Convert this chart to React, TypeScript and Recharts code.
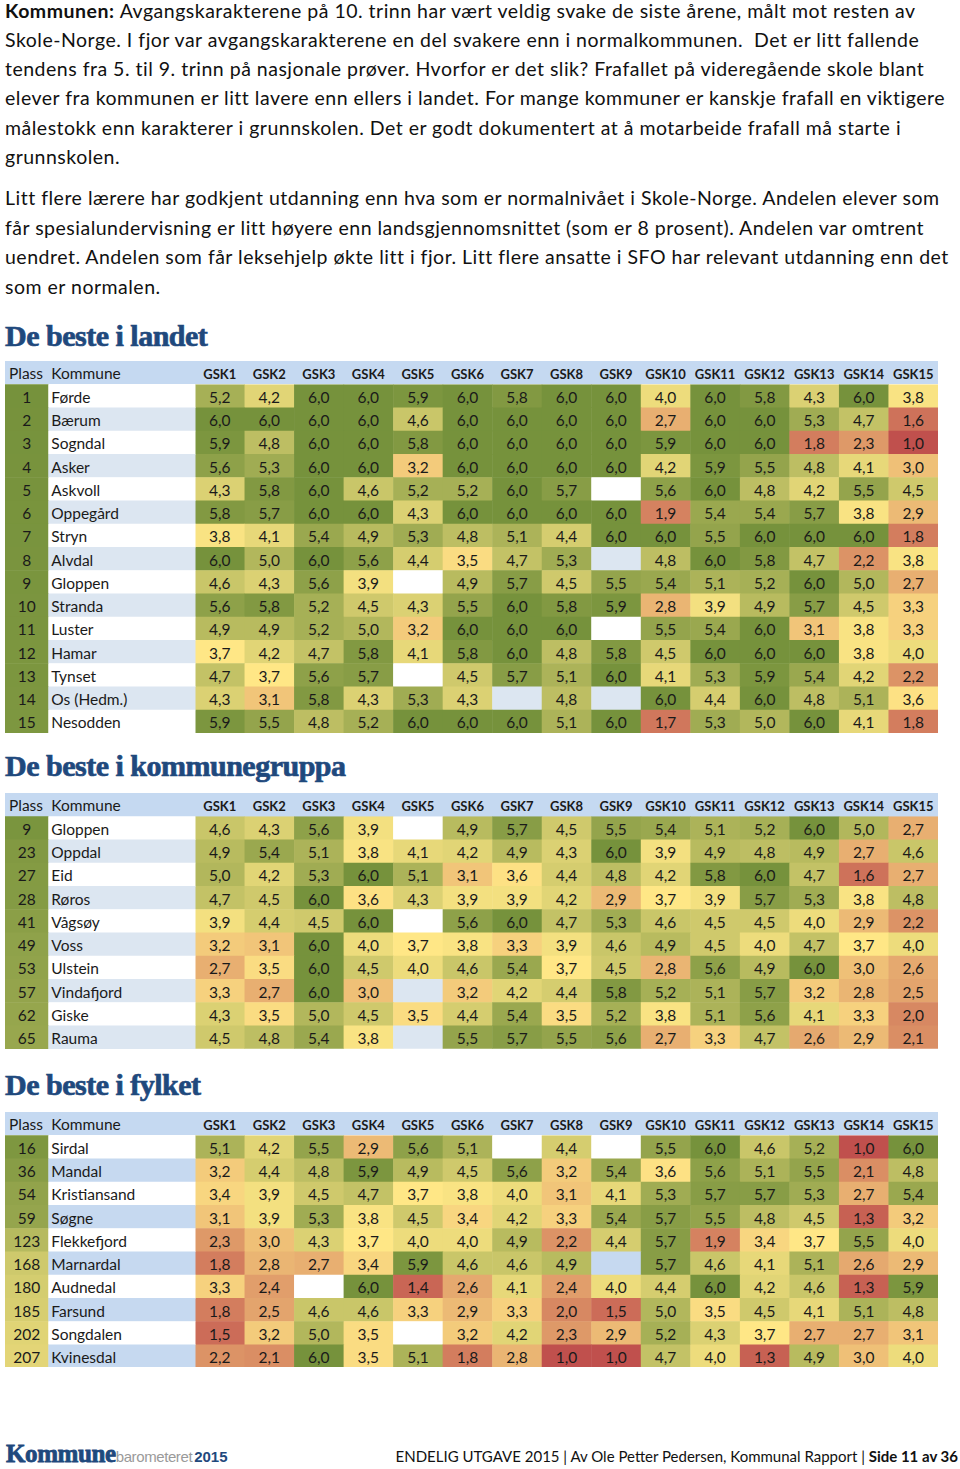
import React from "react"
import { Scatter, ScatterChart, XAxis, YAxis } from "recharts"

// column headings shared by all three tables
const GSK_COLS = [
  "GSK1", "GSK2", "GSK3", "GSK4", "GSK5", "GSK6", "GSK7", "GSK8",
  "GSK9", "GSK10", "GSK11", "GSK12", "GSK13", "GSK14", "GSK15",
]

// De beste i landet
const LANDET_PLASS = [1, 2, 3, 4, 5, 6, 7, 8, 9, 10, 11, 12, 13, 14, 15]
const LANDET_KOMMUNER = [
  "Førde", "Bærum", "Sogndal", "Asker", "Askvoll", "Oppegård", "Stryn", "Alvdal",
  "Gloppen", "Stranda", "Luster", "Hamar", "Tynset", "Os (Hedm.)", "Nesodden",
]
const LANDET_VERDIER: (number | null)[][] = [
  [5.2, 4.2, 6.0, 6.0, 5.9, 6.0, 5.8, 6.0, 6.0, 4.0, 6.0, 5.8, 4.3, 6.0, 3.8],
  [6.0, 6.0, 6.0, 6.0, 4.6, 6.0, 6.0, 6.0, 6.0, 2.7, 6.0, 6.0, 5.3, 4.7, 1.6],
  [5.9, 4.8, 6.0, 6.0, 5.8, 6.0, 6.0, 6.0, 6.0, 5.9, 6.0, 6.0, 1.8, 2.3, 1.0],
  [5.6, 5.3, 6.0, 6.0, 3.2, 6.0, 6.0, 6.0, 6.0, 4.2, 5.9, 5.5, 4.8, 4.1, 3.0],
  [4.3, 5.8, 6.0, 4.6, 5.2, 5.2, 6.0, 5.7, null, 5.6, 6.0, 4.8, 4.2, 5.5, 4.5],
  [5.8, 5.7, 6.0, 6.0, 4.3, 6.0, 6.0, 6.0, 6.0, 1.9, 5.4, 5.4, 5.7, 3.8, 2.9],
  [3.8, 4.1, 5.4, 4.9, 5.3, 4.8, 5.1, 4.4, 6.0, 6.0, 5.5, 6.0, 6.0, 6.0, 1.8],
  [6.0, 5.0, 6.0, 5.6, 4.4, 3.5, 4.7, 5.3, null, 4.8, 6.0, 5.8, 4.7, 2.2, 3.8],
  [4.6, 4.3, 5.6, 3.9, null, 4.9, 5.7, 4.5, 5.5, 5.4, 5.1, 5.2, 6.0, 5.0, 2.7],
  [5.6, 5.8, 5.2, 4.5, 4.3, 5.5, 6.0, 5.8, 5.9, 2.8, 3.9, 4.9, 5.7, 4.5, 3.3],
  [4.9, 4.9, 5.2, 5.0, 3.2, 6.0, 6.0, 6.0, null, 5.5, 5.4, 6.0, 3.1, 3.8, 3.3],
  [3.7, 4.2, 4.7, 5.8, 4.1, 5.8, 6.0, 4.8, 5.8, 4.5, 6.0, 6.0, 6.0, 3.8, 4.0],
  [4.7, 3.7, 5.6, 5.7, null, 4.5, 5.7, 5.1, 6.0, 4.1, 5.3, 5.9, 5.4, 4.2, 2.2],
  [4.3, 3.1, 5.8, 4.3, 5.3, 4.3, null, 4.8, null, 6.0, 4.4, 6.0, 4.8, 5.1, 3.6],
  [5.9, 5.5, 4.8, 5.2, 6.0, 6.0, 6.0, 5.1, 6.0, 1.7, 5.3, 5.0, 6.0, 4.1, 1.8],
]

// De beste i kommunegruppa
const GRUPPA_PLASS = [9, 23, 27, 28, 41, 49, 53, 57, 62, 65]
const GRUPPA_KOMMUNER = [
  "Gloppen", "Oppdal", "Eid", "Røros", "Vågsøy", "Voss", "Ulstein", "Vindafjord", "Giske", "Rauma",
]
const GRUPPA_VERDIER: (number | null)[][] = [
  [4.6, 4.3, 5.6, 3.9, null, 4.9, 5.7, 4.5, 5.5, 5.4, 5.1, 5.2, 6.0, 5.0, 2.7],
  [4.9, 5.4, 5.1, 3.8, 4.1, 4.2, 4.9, 4.3, 6.0, 3.9, 4.9, 4.8, 4.9, 2.7, 4.6],
  [5.0, 4.2, 5.3, 6.0, 5.1, 3.1, 3.6, 4.4, 4.8, 4.2, 5.8, 6.0, 4.7, 1.6, 2.7],
  [4.7, 4.5, 6.0, 3.6, 4.3, 3.9, 3.9, 4.2, 2.9, 3.7, 3.9, 5.7, 5.3, 3.8, 4.8],
  [3.9, 4.4, 4.5, 6.0, null, 5.6, 6.0, 4.7, 5.3, 4.6, 4.5, 4.5, 4.0, 2.9, 2.2],
  [3.2, 3.1, 6.0, 4.0, 3.7, 3.8, 3.3, 3.9, 4.6, 4.9, 4.5, 4.0, 4.7, 3.7, 4.0],
  [2.7, 3.5, 6.0, 4.5, 4.0, 4.6, 5.4, 3.7, 4.5, 2.8, 5.6, 4.9, 6.0, 3.0, 2.6],
  [3.3, 2.7, 6.0, 3.0, null, 3.2, 4.2, 4.4, 5.8, 5.2, 5.1, 5.7, 3.2, 2.8, 2.5],
  [4.3, 3.5, 5.0, 4.5, 3.5, 4.4, 5.4, 3.5, 5.2, 3.8, 5.1, 5.6, 4.1, 3.3, 2.0],
  [4.5, 4.8, 5.4, 3.8, null, 5.5, 5.7, 5.5, 5.6, 2.7, 3.3, 4.7, 2.6, 2.9, 2.1],
]

// De beste i fylket
const FYLKET_PLASS = [16, 36, 54, 59, 123, 168, 180, 185, 202, 207]
const FYLKET_KOMMUNER = [
  "Sirdal", "Mandal", "Kristiansand", "Søgne", "Flekkefjord",
  "Marnardal", "Audnedal", "Farsund", "Songdalen", "Kvinesdal",
]
const FYLKET_VERDIER: (number | null)[][] = [
  [5.1, 4.2, 5.5, 2.9, 5.6, 5.1, null, 4.4, null, 5.5, 6.0, 4.6, 5.2, 1.0, 6.0],
  [3.2, 4.4, 4.8, 5.9, 4.9, 4.5, 5.6, 3.2, 5.4, 3.6, 5.6, 5.1, 5.5, 2.1, 4.8],
  [3.4, 3.9, 4.5, 4.7, 3.7, 3.8, 4.0, 3.1, 4.1, 5.3, 5.7, 5.7, 5.3, 2.7, 5.4],
  [3.1, 3.9, 5.3, 3.8, 4.5, 3.4, 4.2, 3.3, 5.4, 5.7, 5.5, 4.8, 4.5, 1.3, 3.2],
  [2.3, 3.0, 4.3, 3.7, 4.0, 4.0, 4.9, 2.2, 4.4, 5.7, 1.9, 3.4, 3.7, 5.5, 4.0],
  [1.8, 2.8, 2.7, 3.4, 5.9, 4.6, 4.6, 4.9, null, 5.7, 4.6, 4.1, 5.1, 2.6, 2.9],
  [3.3, 2.4, null, 6.0, 1.4, 2.6, 4.1, 2.4, 4.0, 4.4, 6.0, 4.2, 4.6, 1.3, 5.9],
  [1.8, 2.5, 4.6, 4.6, 3.3, 2.9, 3.3, 2.0, 1.5, 5.0, 3.5, 4.5, 4.1, 5.1, 4.8],
  [1.5, 3.2, 5.0, 3.5, null, 3.2, 4.2, 2.3, 2.9, 5.2, 4.3, 3.7, 2.7, 2.7, 3.1],
  [2.2, 2.1, 6.0, 3.5, 5.1, 1.8, 2.8, 1.0, 1.0, 4.7, 4.0, 1.3, 4.9, 3.0, 4.0],
]

// body text, one entry per printed line
const AVSNITT_1 = [
  "Avgangskarakterene på 10. trinn har vært veldig svake de siste årene, målt mot resten av",
  "Skole-Norge. I fjor var avgangskarakterene en del svakere enn i normalkommunen.  Det er litt fallende",
  "tendens fra 5. til 9. trinn på nasjonale prøver. Hvorfor er det slik? Frafallet på videregående skole blant",
  "elever fra kommunen er litt lavere enn ellers i landet. For mange kommuner er kanskje frafall en viktigere",
  "målestokk enn karakterer i grunnskolen. Det er godt dokumentert at å motarbeide frafall må starte i",
  "grunnskolen.",
]
const AVSNITT_2 = [
  "Litt flere lærere har godkjent utdanning enn hva som er normalnivået i Skole-Norge. Andelen elever som",
  "får spesialundervisning er litt høyere enn landsgjennomsnittet (som er 8 prosent). Andelen var omtrent",
  "uendret. Andelen som får leksehjelp økte litt i fjor. Litt flere ansatte i SFO har relevant utdanning enn det",
  "som er normalen.",
]

const FONT = "Lato, 'Open Sans', sans-serif"
const NAVY = "#1f497d"
const HEADER_BG = "#c5d9f1"
const ROW_H = 23.25
const TABLE_W = 933
const PLASS_W = 43.3
const LEFT_W = 190

type Rgb = [number, number, number]
const RED: Rgb = [192, 80, 77]
const YELLOW: Rgb = [255, 231, 134]
const GREEN: Rgb = [118, 146, 60]

function mix(a: Rgb, b: Rgb, t: number) {
  const k = Math.max(0, Math.min(1, t))
  const c = a.map((v, i) => Math.round(v + (b[i] - v) * k))
  return `rgb(${c[0]},${c[1]},${c[2]})`
}

function cellColor(v: number) {
  if (v <= 3.7) return mix(RED, YELLOW, (v - 1) / 2.7)
  return mix(YELLOW, GREEN, (v - 3.7) / 2.3)
}

function plassColor(rank: number) {
  return mix(GREEN, YELLOW, (rank - 1) / 260)
}

const fmt = (v: number) => v.toFixed(1).replace(".", ",")

function HeatTable({
  plass,
  kommuner,
  verdier,
  stripe,
}: {
  plass: number[]
  kommuner: string[]
  verdier: (number | null)[][]
  stripe: string
}) {
  const n = kommuner.length
  const height = ROW_H * (n + 1)
  const cellW = (TABLE_W - LEFT_W) / GSK_COLS.length
  const rowBg = (r: number) => (r % 2 === 0 ? stripe : "#ffffff")

  const data = verdier.flatMap((row, ri) =>
    row.map((v, ci) => ({ c: ci + 1, r: ri + 1, v }))
  )

  const renderCell = (props: any) => {
    const { cx, cy, payload } = props
    const v = payload.v as number | null
    return (
      <g>
        <rect
          x={cx - cellW / 2}
          y={cy - ROW_H / 2}
          width={cellW + 0.5}
          height={ROW_H + 0.5}
          fill={v == null ? rowBg(payload.r) : cellColor(v)}
        />
        {v != null && (
          <text
            x={cx}
            y={cy + 1}
            textAnchor="middle"
            dominantBaseline="central"
            fontFamily={FONT}
            fontSize={15.5}
            fill="#1a1a1a"
          >
            {fmt(v)}
          </text>
        )}
      </g>
    )
  }

  const renderRowTick = (props: any) => {
    const { y, payload } = props
    const r = payload.value as number
    return (
      <g>
        <rect x={0} y={y - ROW_H / 2} width={PLASS_W + 0.5} height={ROW_H + 0.5} fill={plassColor(plass[r - 1])} />
        <rect x={PLASS_W} y={y - ROW_H / 2} width={LEFT_W - PLASS_W + 0.5} height={ROW_H + 0.5} fill={rowBg(r)} />
        <text x={PLASS_W / 2} y={y + 1} textAnchor="middle" dominantBaseline="central" fontFamily={FONT} fontSize={15.5} fill="#1a1a1a">
          {plass[r - 1]}
        </text>
        <text x={PLASS_W + 3} y={y + 1} dominantBaseline="central" fontFamily={FONT} fontSize={15.5} fill="#1a1a1a">
          {kommuner[r - 1]}
        </text>
      </g>
    )
  }

  const renderColTick = (props: any) => {
    const { x, payload } = props
    return (
      <text x={x} y={ROW_H / 2 + 1} textAnchor="middle" dominantBaseline="central" fontFamily={FONT} fontSize={13} fontWeight={700} fill="#1a1a1a">
        {GSK_COLS[payload.value - 1]}
      </text>
    )
  }

  return (
    <div style={{ position: "relative", width: TABLE_W, height }}>
      <div style={{ position: "absolute", left: 0, top: 0, width: TABLE_W, height: ROW_H, background: HEADER_BG }} />
      <div style={{ position: "absolute", left: 4, top: 0, height: ROW_H, lineHeight: `${ROW_H + 1}px`, fontSize: 15.5, color: "#1a1a1a" }}>
        Plass
      </div>
      <div style={{ position: "absolute", left: PLASS_W + 3, top: 0, height: ROW_H, lineHeight: `${ROW_H + 1}px`, fontSize: 15.5, color: "#1a1a1a" }}>
        Kommune
      </div>
      <div style={{ position: "absolute", left: 0, top: 0 }}>
        <ScatterChart width={TABLE_W} height={height} margin={{ top: 0, right: 0, bottom: 0, left: 0 }}>
          <XAxis
            type="number"
            dataKey="c"
            orientation="top"
            domain={[0.5, GSK_COLS.length + 0.5]}
            ticks={GSK_COLS.map((_, i) => i + 1)}
            interval={0}
            allowDataOverflow
            height={ROW_H}
            axisLine={false}
            tickLine={false}
            tick={renderColTick}
          />
          <YAxis
            type="number"
            dataKey="r"
            reversed
            domain={[0.5, n + 0.5]}
            ticks={kommuner.map((_, i) => i + 1)}
            interval={0}
            allowDataOverflow
            width={LEFT_W}
            axisLine={false}
            tickLine={false}
            tick={renderRowTick}
          />
          <Scatter data={data} shape={renderCell} isAnimationActive={false} />
        </ScatterChart>
      </div>
    </div>
  )
}

const lineStyle = (center: number): React.CSSProperties => ({
  position: "absolute",
  left: 5,
  top: center - 9,
  height: 18,
  fontSize: 19.5,
  lineHeight: "18px",
  letterSpacing: 0.5,
  whiteSpace: "pre",
  color: "#111",
})

const title: React.CSSProperties = {
  position: "absolute",
  left: 5,
  fontFamily: "'Liberation Serif', serif",
  fontWeight: 700,
  fontSize: 30,
  lineHeight: "30px",
  letterSpacing: -0.5,
  color: NAVY,
  WebkitTextStroke: `0.7px ${NAVY}`,
  whiteSpace: "nowrap",
}

export default function App() {
  return (
    <div
      style={{
        position: "absolute",
        left: 0,
        top: 0,
        width: 960,
        height: 1469,
        background: "#fff",
        overflow: "hidden",
        fontFamily: FONT,
      }}
    >
      {AVSNITT_1.map((line, i) => (
        <div key={`a${i}`} style={lineStyle(10.5 + i * 29.3)}>
          {i === 0 && <b>Kommunen: </b>}
          {line}
        </div>
      ))}
      {AVSNITT_2.map((line, i) => (
        <div key={`b${i}`} style={lineStyle(198 + i * 29.6)}>
          {line}
        </div>
      ))}

      <div style={{ ...title, top: 321 }}>De beste i landet</div>
      <div style={{ position: "absolute", left: 5, top: 360.7 }}>
        <HeatTable plass={LANDET_PLASS} kommuner={LANDET_KOMMUNER} verdier={LANDET_VERDIER} stripe="#dce6f1" />
      </div>

      <div style={{ ...title, top: 751 }}>De beste i kommunegruppa</div>
      <div style={{ position: "absolute", left: 5, top: 793.3 }}>
        <HeatTable plass={GRUPPA_PLASS} kommuner={GRUPPA_KOMMUNER} verdier={GRUPPA_VERDIER} stripe="#dce6f1" />
      </div>

      <div style={{ ...title, top: 1070 }}>De beste i fylket</div>
      <div style={{ position: "absolute", left: 5, top: 1111.7 }}>
        <HeatTable plass={FYLKET_PLASS} kommuner={FYLKET_KOMMUNER} verdier={FYLKET_VERDIER} stripe="#c6d9f0" />
      </div>

      <div style={{ position: "absolute", left: 6, top: 1441, whiteSpace: "nowrap", lineHeight: "26px" }}>
        <span
          style={{
            fontFamily: "'Liberation Serif', serif",
            fontWeight: 700,
            fontSize: 25,
            color: NAVY,
            letterSpacing: -0.4,
            WebkitTextStroke: `0.8px ${NAVY}`,
          }}
        >
          Kommune
        </span>
        <span style={{ fontFamily: "'Liberation Sans Narrow', 'Liberation Sans', sans-serif", fontSize: 15, color: "#9a9a9a", letterSpacing: -0.4 }}>
          barometeret
        </span>
        <span style={{ fontFamily: "'Liberation Sans Narrow', 'Liberation Sans', sans-serif", fontWeight: 700, fontSize: 15, color: NAVY, marginLeft: 2 }}>
          2015
        </span>
      </div>
      <div
        style={{
          position: "absolute",
          right: 2,
          top: 1446,
          whiteSpace: "nowrap",
          fontSize: 15,
          lineHeight: "20px",
          color: "#111",
        }}
      >
        ENDELIG UTGAVE 2015 | Av Ole Petter Pedersen, Kommunal Rapport | <b>Side 11 av 36</b>
      </div>
    </div>
  )
}
